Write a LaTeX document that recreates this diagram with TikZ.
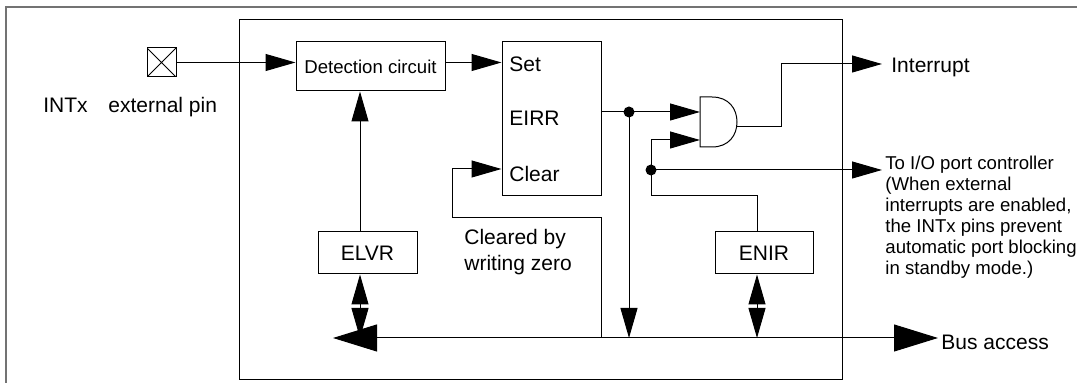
\documentclass[tikz,border=0pt]{standalone}
\usepackage{fontspec}
\setmainfont{Liberation Sans}
\usetikzlibrary{arrows.meta, calc}

\begin{document}
\begin{tikzpicture}[
  x=0.5pt, y=-0.5pt,
  wire/.style={line width=0.5pt},
  frame/.style={line width=0.9pt, black!55},
  box/.style={draw, line width=0.5pt, inner sep=0pt, font=\fontsize{10.5}{12.5}\selectfont},
  pinbox/.style={draw, line width=0.5pt, minimum size=14.5pt, inner sep=0pt,
    path picture={\draw[line width=0.4pt] (path picture bounding box.south west) -- (path picture bounding box.north east)
      (path picture bounding box.north west) -- (path picture bounding box.south east);}},
  lbl/.style={inner sep=0pt, anchor=base west, font=\fontsize{10.5}{13}\selectfont},
  small/.style={inner sep=0pt, font=\fontsize{9.3}{10.5}\selectfont},
  arr/.style={line width=0.5pt, -{Triangle[length=15pt, width=8.5pt]}},
  busarr/.style={line width=0.5pt, {Triangle[length=22pt, width=13.5pt]}-{Triangle[length=22pt, width=13.5pt]}},
]
\useasboundingbox (0,0) rectangle (1077,383);

% ================= frames =================
\draw[frame] (6,383) -- (6,7) -- (1077,7);
\draw[wire] (239,20) rectangle (842,380);

% ================= blocks =================
% external pin
\node[pinbox] (pin) at (161.5,62.5) {};
\node[lbl] (intx) at (43,113) {INTx};
\node[lbl] (extpin) at (108,113) {external pin};

% detection circuit and EIRR
\node[box, small, minimum width=74.5pt, minimum height=24.5pt] (det) at (370.5,66.5) {Detection circuit};
\node[box, minimum width=49.5pt, minimum height=77pt] (eirr) at (551.5,119) {};
\node[lbl] (set) at (509,72) {Set};
\node[lbl] (eirrtxt) at (509,126) {EIRR};
\node[lbl] (clear) at (509,182) {Clear};

% control registers
\node[box, minimum width=49.5pt, minimum height=21pt] (elvr) at (367.5,253) {ELVR};
\node[box, minimum width=49pt, minimum height=21pt] (enir) at (764,253) {ENIR};

% AND gate
\coordinate (and_in1) at (700,112);
\coordinate (and_in2) at (700,140);
\coordinate (and_out) at (736,127);
\draw[wire] (700,97) -- (712,97) .. controls (729,97) and (737,109) .. (737,122)
  .. controls (737,135) and (729,147) .. (712,147) -- (700,147) -- cycle;

% ================= wire points =================
\coordinate (bus_l) at (333,338);
\coordinate (bus_r) at (938,338);
\coordinate (elvr_mid) at (360,306);
\coordinate (enir_mid) at (757,306);
\coordinate (dot1) at (629,112);
\coordinate (dot2) at (651,170);
\coordinate (clr_turn) at (452,218);
\coordinate (clr_in) at (452,169);
\coordinate (en_turn) at (651,196);
\coordinate (int_turn) at (781,64);
\coordinate (int_tip) at (882,64);
\coordinate (io_tip) at (882,170);

% ================= connections =================
% 1. pin -> detection -> set
\draw[arr] (pin.east) -- (pin.east -| det.west);
\draw[arr] (det.east |- pin.east) -- (eirr.west |- pin.east);

% 2. ELVR
\draw[arr] (elvr_mid |- elvr.north) -- (elvr_mid |- det.south);
\draw[arr] (elvr_mid) -- (elvr_mid |- elvr.south);
\draw[arr] (elvr_mid) -- (elvr_mid |- bus_l);

% 3. bus
\draw[busarr] (bus_l) -- (bus_r);
\node[lbl] (busacc) at (941,350) {Bus access};

% 4. clear by writing zero
\draw[arr] (eirr.east |- bus_l) |- (clr_turn) -- (clr_in) -- (clr_in -| eirr.west);
\node[lbl, anchor=north west, align=left] (cleared) at (464,229) {Cleared by\\writing zero};

% 5. EIRR -> AND gate, read back on bus
\draw[arr] (eirr.east |- dot1) -- (and_in1);
\fill (dot1) circle (2.75pt);
\draw[arr] (dot1) -- (dot1 |- bus_l);

% 6. ENIR -> AND gate and port controller
\draw[arr] (enir_mid |- enir.north) |- (en_turn) |- (and_in2);
\fill (dot2) circle (2.75pt);
\draw[arr] (dot2) -- (io_tip);
\draw[arr] (enir_mid) -- (enir_mid |- enir.south);
\draw[arr] (enir_mid) -- (enir_mid |- bus_l);
\node[small, anchor=north west, align=left] (iotxt) at (885,156) {To I/O port controller\\(When external\\interrupts are enabled,\\the INTx pins prevent\\automatic port blocking\\in standby mode.)};

% 7. interrupt output
\draw[arr] (and_out) -| (int_turn) -- (int_tip);
\node[lbl] (intr) at (891,73) {Interrupt};

\end{tikzpicture}
\end{document}
